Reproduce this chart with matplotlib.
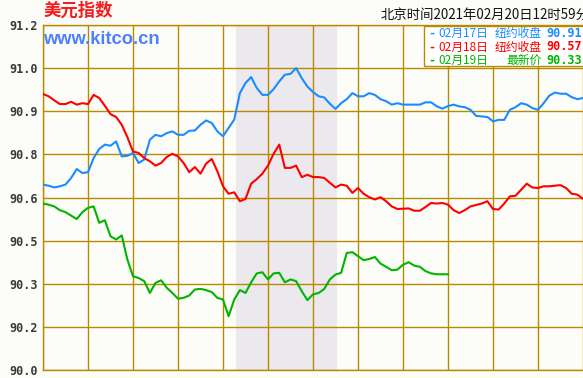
import numpy as np
import matplotlib
matplotlib.use('Agg')
import matplotlib.pyplot as plt
from matplotlib.patches import Rectangle

# valeurs, une tous les 1/8 de colonne de grille
blue = [90.645, 90.641, 90.635, 90.639, 90.645, 90.668, 90.699, 90.685, 90.688, 90.737,
        90.769, 90.784, 90.780, 90.795, 90.743, 90.745, 90.755, 90.720, 90.732, 90.801,
        90.818, 90.813, 90.824, 90.830, 90.818,
        90.818, 90.832, 90.833, 90.853, 90.868, 90.859, 90.830, 90.813, 90.842, 90.871,
        90.963, 90.998, 91.019, 90.981, 90.957, 90.957, 90.977, 91.004, 91.027, 91.030,
        91.050, 91.015, 90.986, 90.967,
        90.952, 90.948, 90.926, 90.908, 90.928, 90.942, 90.963, 90.952, 90.952, 90.963,
        90.957, 90.942, 90.935, 90.923, 90.928, 90.923, 90.923, 90.923, 90.923, 90.931,
        90.931, 90.917, 90.909, 90.918,
        90.923, 90.917, 90.914, 90.905, 90.884, 90.882, 90.880, 90.865, 90.870, 90.870,
        90.905, 90.914, 90.928, 90.923, 90.911, 90.905, 90.928, 90.954, 90.965, 90.961,
        90.961, 90.949, 90.942, 90.946]

red = [90.960, 90.952, 90.938, 90.925, 90.925, 90.933, 90.923, 90.928, 90.925, 90.957,
       90.946, 90.919, 90.890, 90.880, 90.853, 90.810, 90.760, 90.755, 90.737, 90.726,
       90.711, 90.720, 90.741, 90.752, 90.743,
       90.720, 90.688, 90.706, 90.683, 90.718, 90.734, 90.691, 90.639, 90.613, 90.618,
       90.587, 90.595, 90.648, 90.664, 90.683, 90.711, 90.752, 90.784, 90.703, 90.703,
       90.711, 90.671, 90.679, 90.671,
       90.671, 90.668, 90.651, 90.635, 90.645, 90.641, 90.616, 90.633, 90.613, 90.601,
       90.593, 90.601, 90.587, 90.569, 90.560, 90.561, 90.562, 90.554, 90.554, 90.567,
       90.581, 90.579, 90.581, 90.575,
       90.556, 90.546, 90.556, 90.569, 90.574, 90.579, 90.587, 90.560, 90.558, 90.579,
       90.604, 90.606, 90.627, 90.648, 90.635, 90.633, 90.639, 90.639, 90.641, 90.643,
       90.633, 90.613, 90.610, 90.595]

green = [90.579, 90.575, 90.569, 90.556, 90.549, 90.537, 90.525, 90.549, 90.564, 90.569,
         90.512, 90.521, 90.465, 90.454, 90.468, 90.384, 90.326, 90.320, 90.309, 90.268,
         90.303, 90.312, 90.286, 90.268, 90.248,
         90.251, 90.259, 90.280, 90.282, 90.278, 90.271, 90.251, 90.245, 90.187, 90.245,
         90.278, 90.268, 90.305, 90.336, 90.340, 90.315, 90.336, 90.338, 90.305, 90.315,
         90.309, 90.274, 90.243, 90.263,
         90.268, 90.282, 90.315, 90.332, 90.338, 90.407, 90.410, 90.396, 90.382, 90.386,
         90.393, 90.370, 90.359, 90.347, 90.349, 90.366, 90.375, 90.363, 90.359, 90.344,
         90.336, 90.333, 90.333, 90.333]

yticks = [90.0, 90.15, 90.3, 90.45, 90.6, 90.75, 90.9, 91.05, 91.2]
ylabels = ['90.0', '90.2', '90.3', '90.5', '90.6', '90.8', '90.9', '91.0', '91.2']

dates = ['02月17日', '02月18日', '02月19日']
kinds = ['纽约收盘', '纽约收盘', '最新价']
closes = ['90.91', '90.57', '90.33']
colors = ['#1a8cff', '#ff0000', '#00b400']

shade = (4.29, 6.53)   # zone grisée, en colonnes de grille

W, H = 583, 378
bg = '#fcfdf8'
gold = '#b88a00'
cjk = ['Noto Sans CJK SC', 'DejaVu Sans']

fig = plt.figure(figsize=(W/100, H/100), dpi=100, facecolor=bg)
ax = fig.add_axes([43/W, 8/H, 540/W, 345/H], facecolor=bg)

ax.axvspan(*shade, color='#ebe8ee', lw=0, zorder=0)

for serie, c in zip([blue, red, green], colors):
    x = np.arange(len(serie))/8
    ax.plot(x, serie, color=c, lw=1.5, zorder=3)

ax.set_xlim(0, 12)
ax.set_ylim(90.0, 91.2)
ax.set_xticks(np.arange(13))
ax.set_xticklabels([])
ax.set_yticks(yticks)
ax.set_yticklabels(ylabels, family='DejaVu Sans Mono', fontweight='bold',
                   fontsize=8.5, color='#3a3a3a')
ax.tick_params(length=0, pad=4)
ax.grid(True, color=gold, lw=1.0, zorder=1)
ax.set_axisbelow(True)
for s in ['left', 'top', 'bottom']:
    ax.spines[s].set_color(gold)
    ax.spines[s].set_linewidth(1.0)
ax.spines['right'].set_visible(False)

def px(x, y):
    return x/W, 1 - y/H

fig.text(*px(43, 11), '美元指数', color='#f41c1c', fontsize=12.5, fontweight='bold',
         family=cjk, va='center', ha='left')
fig.text(*px(43, 39), 'www.kitco.cn', color='#4d80ff', fontsize=13.2, fontweight='bold',
         family='Liberation Sans', va='center', ha='left', zorder=5)
fig.text(*px(381, 15), '北京时间2021年02月20日12时59分', color='#111111', fontsize=9.6,
         family=cjk, va='center', ha='left')

box = Rectangle(px(424, 66), 170/W, 40/H, transform=fig.transFigure,
                facecolor='white', edgecolor=gold, lw=1.0, zorder=4)
fig.add_artist(box)

for i, (d, k, v, c) in enumerate(zip(dates, kinds, closes, colors)):
    yy = 33.5 + 13.5*i
    fig.text(*px(428, yy), '-', color=c, fontsize=8.5, fontweight='bold',
             family='DejaVu Sans Mono', va='center', zorder=5)
    fig.text(*px(438, yy), d, color=c, fontsize=8.5, family=cjk, va='center', zorder=5)
    fig.text(*px(542, yy), k, color=c, fontsize=8.5, family=cjk, va='center', ha='right', zorder=5)
    fig.text(*px(546, yy), v, color=c, fontsize=8.5, fontweight='bold',
             family='DejaVu Sans Mono', va='center', zorder=5)

plt.savefig('out.png', dpi=100, facecolor=bg)
